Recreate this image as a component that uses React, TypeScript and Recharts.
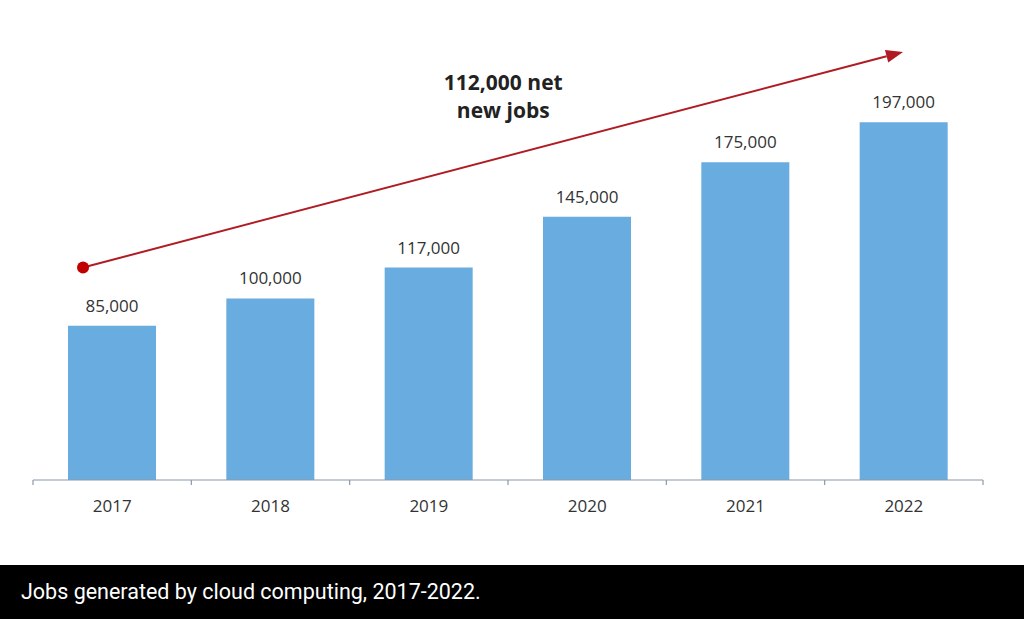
import React from 'react';
import {
  BarChart,
  Bar,
  XAxis,
  YAxis,
  LabelList,
  ScatterChart,
  ReferenceLine,
  ReferenceDot,
} from 'recharts';

const years = ['2017', '2018', '2019', '2020', '2021', '2022'];
const jobs = [85000, 100000, 117000, 145000, 175000, 197000];
const annotationLines = ['112,000 net', 'new jobs'];
const caption = 'Jobs generated by cloud computing, 2017-2022.';
// annotation anchors in (category-position, jobs) units
const arrowStart = { x: 0.316, y: 117000 };
const arrowEnd = { x: 5.495, y: 235700 };
const annotationPos = { x: 2.97, y: 214500 };

const data = years.map((y, i) => ({ year: y, jobs: jobs[i] }));
const fmt = (v: number) => v.toLocaleString('en-US');

const W = 1024;
const CHART_H = 565;
const MARGIN = { top: 26, right: 41, left: 33, bottom: 55 };
const XAXIS_H = 30;
const TICK_MARGIN = 10;
const AXIS_COLOR = '#8a98a8';
const FONT = "'Open Sans', sans-serif";

const YearTick = (props: any) => {
  const { x, y, payload, index, visibleTicksCount } = props;
  const half = payload?.offset ?? 0;
  const axisY = y - TICK_MARGIN;
  const isLast = index === (visibleTicksCount ?? 0) - 1;
  return (
    <g>
      <line x1={x - half} y1={axisY} x2={x - half} y2={axisY + 5} stroke={AXIS_COLOR} strokeWidth={1.2} />
      {isLast && (
        <line x1={x + half} y1={axisY} x2={x + half} y2={axisY + 5} stroke={AXIS_COLOR} strokeWidth={1.2} />
      )}
      <text x={x} y={axisY + 32} textAnchor="middle" fontFamily={FONT} fontSize={17} fill="#333">
        {payload.value}
      </text>
    </g>
  );
};

const ArrowShape = (props: any) => {
  const { x1, y1, x2, y2 } = props;
  if ([x1, y1, x2, y2].some((v) => typeof v !== 'number' || isNaN(v))) return null;
  const dx = x2 - x1;
  const dy = y2 - y1;
  const len = Math.sqrt(dx * dx + dy * dy);
  const ux = dx / len;
  const uy = dy / len;
  const hl = 17;
  const hw = 6.5;
  const bx = x2 - ux * hl;
  const by = y2 - uy * hl;
  const pts = `${x2},${y2} ${bx - uy * hw},${by + ux * hw} ${bx + uy * hw},${by - ux * hw}`;
  return (
    <g>
      <line x1={x1} y1={y1} x2={bx} y2={by} stroke="#b01c24" strokeWidth={2} />
      <polygon points={pts} fill="#b01c24" />
    </g>
  );
};

const AnnotationLabel = (props: any) => {
  const { cx, cy } = props;
  return (
    <text x={cx} y={cy} textAnchor="middle" fontFamily={FONT} fontWeight={700} fontSize={21} fill="#222">
      {annotationLines.map((t, i) => (
        <tspan key={i} x={cx} dy={i === 0 ? 0 : 28}>
          {t}
        </tspan>
      ))}
    </text>
  );
};

export default function App() {
  return (
    <div
      style={{
        position: 'absolute',
        left: 0,
        top: 0,
        width: W,
        height: 619,
        background: '#fff',
        overflow: 'hidden',
      }}
    >
      <div style={{ position: 'absolute', left: 0, top: 0 }}>
        <BarChart width={W} height={CHART_H} data={data} margin={MARGIN} barSize={88}>
          <YAxis hide domain={[0, 250000]} type="number" />
          <XAxis
            dataKey="year"
            axisLine={{ stroke: AXIS_COLOR, strokeWidth: 1.2 }}
            tickLine={false}
            tickSize={0}
            tickMargin={TICK_MARGIN}
            height={XAXIS_H}
            tick={<YearTick />}
            interval={0}
          />
          <Bar dataKey="jobs" fill="#69acdf" isAnimationActive={false}>
            <LabelList
              dataKey="jobs"
              position="top"
              offset={14}
              formatter={(v: any) => fmt(Number(v))}
              style={{ fontFamily: FONT, fontSize: 17, fill: '#333' }}
            />
          </Bar>
        </BarChart>
      </div>
      <div style={{ position: 'absolute', left: 0, top: 0, pointerEvents: 'none' }}>
        <ScatterChart
          width={W}
          height={CHART_H}
          margin={{ top: MARGIN.top, right: MARGIN.right, left: MARGIN.left, bottom: MARGIN.bottom + XAXIS_H }}
        >
          <XAxis type="number" dataKey="x" hide domain={[0, years.length]} allowDataOverflow />
          <YAxis type="number" dataKey="y" hide domain={[0, 250000]} allowDataOverflow />
          <ReferenceLine segment={[arrowStart, arrowEnd]} shape={ArrowShape} ifOverflow="visible" />
          <ReferenceDot x={arrowStart.x} y={arrowStart.y} r={6} fill="#c00000" stroke="none" ifOverflow="visible" />
          <ReferenceDot
            x={annotationPos.x}
            y={annotationPos.y}
            r={0}
            ifOverflow="visible"
            shape={AnnotationLabel}
          />
        </ScatterChart>
      </div>
      <div
        style={{
          position: 'absolute',
          left: 0,
          top: CHART_H,
          width: W,
          height: 619 - CHART_H,
          background: '#000',
          color: '#fff',
          fontFamily: 'Roboto, sans-serif',
          fontSize: 21.5,
          lineHeight: `${619 - CHART_H}px`,
          paddingLeft: 21,
          boxSizing: 'border-box',
          whiteSpace: 'nowrap',
        }}
      >
        {caption}
      </div>
    </div>
  );
}
